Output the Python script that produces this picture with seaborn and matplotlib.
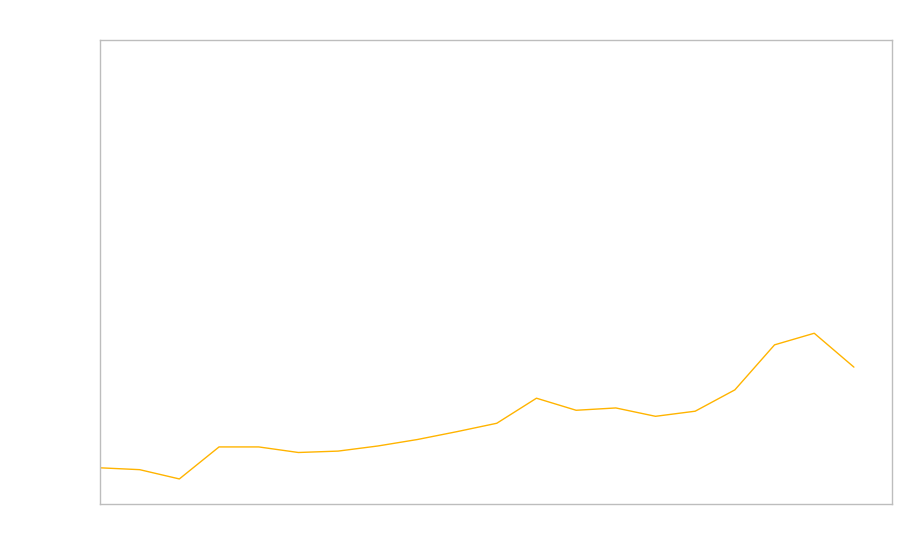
import matplotlib
matplotlib.use("Agg")
import matplotlib.pyplot as plt
import seaborn as sns
import pandas as pd

# Data (y axis scaled 0-100)
periods = list(range(20))
values = [7.8, 7.4, 5.4, 12.3, 12.3, 11.1, 11.4, 12.5, 13.9, 15.6,
          17.4, 22.8, 20.2, 20.7, 18.9, 20.0, 24.6, 34.3, 36.8, 29.5]

sns.set_style("white")
df = pd.DataFrame({"period": periods, "value": values})

fig = plt.figure(figsize=(9, 5.6), dpi=100)
ax = fig.add_axes([100 / 900, 1 - 504 / 560, 792 / 900, 464 / 560])
sns.lineplot(data=df, x="period", y="value", ax=ax, color="#FFB400", linewidth=1.0)

ax.set_xlim(0, 19.96)
ax.set_ylim(0, 100)
ax.set_xticks([])
ax.set_yticks([])
ax.set_xlabel("")
ax.set_ylabel("")
for s in ax.spines.values():
    s.set_visible(True)
    s.set_color("#bdbdbd")
    s.set_linewidth(1.0)

fig.savefig("out.png", dpi=100, facecolor="white")
